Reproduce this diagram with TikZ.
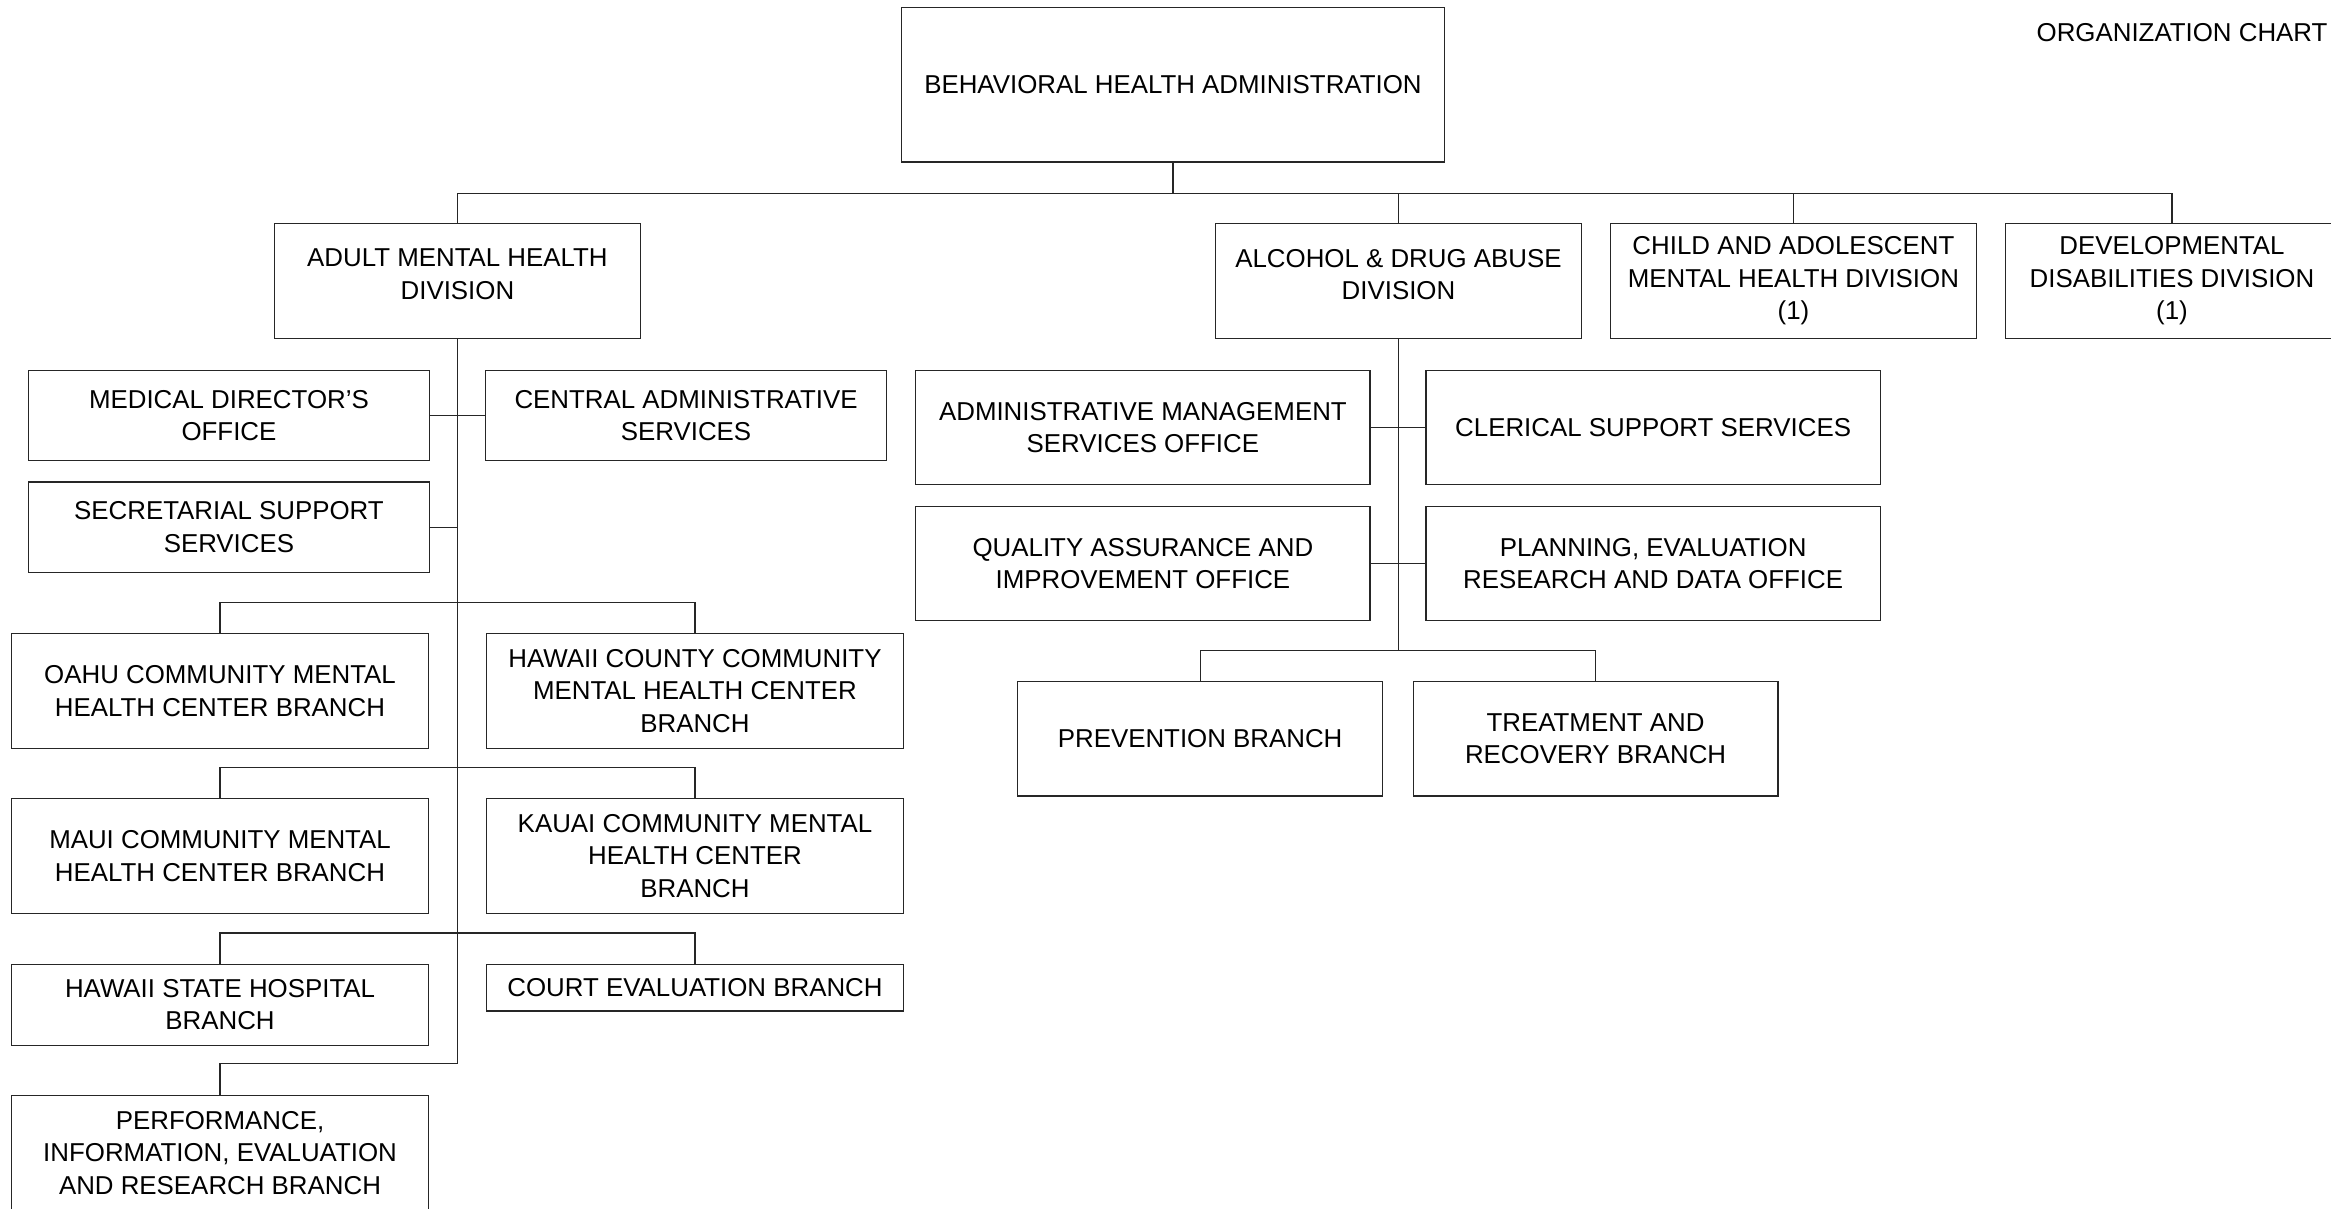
\documentclass[tikz,border=0pt]{standalone}
\usepackage{fontspec}
\setmainfont{Liberation Sans}

\tikzset{
	unit/.style={draw=black!85, align=center, inner sep=0pt, font=\fontsize{8.7}{10.95}\selectfont},
	division/.style={minimum width=123pt, minimum height=38.5pt},
	office/.style={minimum width=135pt, minimum height=30.5pt},
	branch/.style={minimum width=140.5pt, minimum height=38.5pt},
	adoffice/.style={minimum width=152.75pt, minimum height=38.5pt},
	adbranch/.style={minimum width=122.75pt, minimum height=38.5pt},
	link/.style={draw=black!85},
}

\begin{document}
\begin{tikzpicture}[x=0.5pt,y=-0.5pt]
	\useasboundingbox (0,0) rectangle (1568,813);
	% Заголовок
	\node[anchor=east, inner sep=0pt, font=\fontsize{8.7}{10.95}\selectfont] (title) at (1566,22) {ORGANIZATION CHART};
	% Администрация и отделы
	\node[unit, minimum width=182.5pt, minimum height=52pt] (BHA) at (789,57) {BEHAVIORAL HEALTH ADMINISTRATION};
	\node[unit, division] (AMHD) at (307.7,189) {ADULT MENTAL HEALTH\\DIVISION\\[-6.5pt]\mbox{}};
	\node[unit, division] (ADAD) at (940.7,189) {ALCOHOL \& DRUG ABUSE\\DIVISION\\[-6.5pt]\mbox{}};
	\node[unit, division] (CAMHD) at (1206.4,189) {CHILD AND ADOLESCENT\\MENTAL HEALTH DIVISION\\(1)};
	\node[unit, division, minimum width=112pt] (DDD) at (1461,189) {DEVELOPMENTAL\\DISABILITIES DIVISION\\(1)};
	% Взрослые: офисы
	\node[unit, office] (MDO) at (154,279.5) {MEDICAL DIRECTOR'S\\OFFICE};
	\node[unit, office] (CAS) at (461.5,279.5) {CENTRAL ADMINISTRATIVE\\SERVICES};
	\node[unit, office] (SSS) at (154,354.7) {SECRETARIAL SUPPORT\\SERVICES};
	% Взрослые: филиалы
	\node[unit, branch] (OAHU) at (148,464.8) {OAHU COMMUNITY MENTAL\\HEALTH CENTER BRANCH};
	\node[unit, branch] (HCC) at (467.5,464.8) {HAWAII COUNTY COMMUNITY\\MENTAL HEALTH CENTER\\BRANCH};
	\node[unit, branch] (MAUI) at (148,575.8) {MAUI COMMUNITY MENTAL\\HEALTH CENTER BRANCH};
	\node[unit, branch] (KAUAI) at (467.5,575.8) {KAUAI COMMUNITY MENTAL\\HEALTH CENTER\\BRANCH};
	\node[unit, branch, minimum height=27.25pt] (HSH) at (148,675.8) {HAWAII STATE HOSPITAL\\BRANCH};
	\node[unit, branch, minimum height=15.75pt] (CEB) at (467.5,664.3) {COURT EVALUATION BRANCH};
	\node[unit, branch] (PIERB) at (148,775.5) {PERFORMANCE,\\INFORMATION, EVALUATION\\AND RESEARCH BRANCH};
	% Алкоголь и наркотики
	\node[unit, adoffice] (AMSO) at (768.8,287.5) {ADMINISTRATIVE MANAGEMENT\\SERVICES OFFICE};
	\node[unit, adoffice] (CSS) at (1112,287.5) {CLERICAL SUPPORT SERVICES};
	\node[unit, adoffice] (QAIO) at (768.8,379) {QUALITY ASSURANCE AND\\IMPROVEMENT OFFICE};
	\node[unit, adoffice] (PERDO) at (1112,379) {PLANNING, EVALUATION\\RESEARCH AND DATA OFFICE};
	\node[unit, adbranch] (PREV) at (807.3,497) {PREVENTION BRANCH};
	\node[unit, adbranch] (TRB) at (1073.3,497) {TREATMENT AND\\RECOVERY BRANCH};
	% Связи
	\draw[link] (BHA.south) -- ++(0,20.5) coordinate (bus);
	\foreach \d in {AMHD,ADAD,CAMHD,DDD}
		\draw[link] (bus) -| (\d.north);
	\draw[link] (PIERB.north) -- ++(0,-21) -| (AMHD.south);
	\draw[link] (MDO) -- (CAS);
	\draw[link] (SSS.east) -- (SSS.east -| AMHD.south);
	\foreach \l/\r in {OAHU/HCC,MAUI/KAUAI,HSH/CEB}
		\draw[link] (\l.north) -- ++(0,-20.5) -| (\r.north);
	\draw[link] (PREV.north) -- ++(0,-20.4) coordinate (pbus) -| (TRB.north);
	\draw[link] (ADAD.south) -- (ADAD.south |- pbus);
	\draw[link] (AMSO) -- (CSS);
	\draw[link] (QAIO) -- (PERDO);
\end{tikzpicture}
\end{document}
